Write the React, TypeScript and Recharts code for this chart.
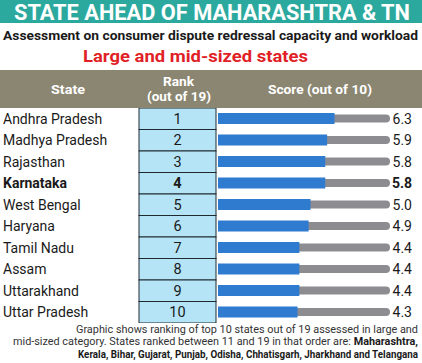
import React from "react";
import { BarChart, Bar, XAxis, YAxis } from "recharts";

const STATES = [
  "Andhra Pradesh",
  "Madhya Pradesh",
  "Rajasthan",
  "Karnataka",
  "West Bengal",
  "Haryana",
  "Tamil Nadu",
  "Assam",
  "Uttarakhand",
  "Uttar Pradesh",
];
const RANKS = [1, 2, 3, 4, 5, 6, 7, 8, 9, 10];
const SCORES = [6.3, 5.9, 5.8, 5.8, 5.0, 4.9, 4.4, 4.4, 4.4, 4.3];
const HIGHLIGHT = "Karnataka";
const RANKED_11_TO_19 = [
  "Maharashtra",
  "Kerala",
  "Bihar",
  "Gujarat",
  "Punjab",
  "Odisha",
  "Chhatisgarh",
  "Jharkhand",
  "Telangana",
];

const data = STATES.map((state, i) => ({ state, rank: RANKS[i], score: SCORES[i] }));

const W = 422;
const H = 363;
const CHART_TOP = 108;
const CHART_H = 215;
const ROW_H = CHART_H / STATES.length;
const LEFT_W = 218;
const RIGHT_W = 32;

const TEAL = "#2ca99e";
const BAND = "#8b8671";
const BLUE = "#2f7bcf";
const TRACK = "#8d8d91";
const RANK_FILL = "#b6e4f7";
const RED = "#e11f27";
const FONT = "Roboto, sans-serif";
const INK = "#1a1a1a";

// left axis tick: state name plus the rank box
function StateTick({ x, y, payload }: any) {
  const row = data.find((d) => d.state === payload.value)!;
  const bold = row.state === HIGHLIGHT;
  return (
    <g>
      <text
        x={x - 215}
        y={y}
        dy={5}
        fontFamily={FONT}
        fontSize={14}
        fontWeight={bold ? 700 : 400}
        fill={INK}
      >
        {row.state}
      </text>
      <rect
        x={x - 79}
        y={y - ROW_H / 2}
        width={77}
        height={ROW_H}
        fill={RANK_FILL}
        stroke="#1f2a30"
        strokeWidth={1}
      />
      <text
        x={x - 40.5}
        y={y}
        dy={5}
        textAnchor="middle"
        fontFamily={FONT}
        fontSize={14.5}
        fontWeight={bold ? 700 : 400}
        fill={INK}
      >
        {row.rank}
      </text>
    </g>
  );
}

function ScoreTick({ x, y, payload }: any) {
  const row = data.find((d) => d.state === payload.value)!;
  const bold = row.state === HIGHLIGHT;
  return (
    <text
      x={x + 22}
      y={y}
      dy={5}
      textAnchor="end"
      fontFamily={FONT}
      fontSize={14}
      fontWeight={bold ? 700 : 400}
      fill={INK}
    >
      {row.score.toFixed(1)}
    </text>
  );
}

function Track(props: any) {
  const { x, y, width, height } = props;
  return (
    <rect x={x} y={y + height / 2 - 4} width={width} height={8} rx={4} fill={TRACK} />
  );
}

// text squeezed to a given width, like the condensed face of the original
function Fit({ x, y, w, size, children, ...rest }: any) {
  return (
    <text
      x={x}
      y={y}
      textLength={w}
      lengthAdjust="spacingAndGlyphs"
      fontFamily={FONT}
      fontSize={size}
      {...rest}
    >
      {children}
    </text>
  );
}

export default function App() {
  const last = RANKED_11_TO_19[RANKED_11_TO_19.length - 1];
  return (
    <div
      style={{
        position: "absolute",
        left: 0,
        top: 0,
        width: W,
        height: H,
        background: "#fff",
        overflow: "hidden",
      }}
    >
      <svg
        width={W}
        height={H}
        style={{ position: "absolute", left: 0, top: 0 }}
      >
        <rect x={0} y={0} width={W} height={23} fill={TEAL} />
        <Fit x={14} y={20} w={396} size={22} fontWeight={700} fill="#fff">
          STATE AHEAD OF MAHARASHTRA &amp; TN
        </Fit>
        <Fit x={3} y={40} w={415} size={13.5} fontWeight={700} fill={INK}>
          Assessment on consumer dispute redressal capacity and workload
        </Fit>
        <Fit x={83} y={62} w={225} size={16.5} fontWeight={700} fill={RED}>
          Large and mid-sized states
        </Fit>
        <rect x={0} y={70} width={W} height={38} fill={BAND} />
        <Fit x={51} y={94} w={34} size={12.5} fontWeight={700} fill="#fff">
          State
        </Fit>
        <Fit x={163} y={86} w={31} size={12.5} fontWeight={700} fill="#fff">
          Rank
        </Fit>
        <Fit x={147} y={101} w={64} size={12.5} fontWeight={700} fill="#fff">
          (out of 19)
        </Fit>
        <Fit x={268} y={94} w={104} size={12.5} fontWeight={700} fill="#fff">
          Score (out of 10)
        </Fit>
        <Fit x={76} y={332.5} w={342} size={10} fill="#333">
          Graphic shows ranking of top 10 states out of 19 assessed in large and
        </Fit>
        <Fit x={13} y={345} w={405} size={10} fill="#333">
          mid-sized category. States ranked between 11 and 19 in that order are:{" "}
          <tspan fontWeight={700} fill={INK}>
            {RANKED_11_TO_19[0]},
          </tspan>
        </Fit>
        <Fit x={78} y={358} w={340} size={10} fontWeight={700} fill={INK}>
          {RANKED_11_TO_19.slice(1, -1).join(", ")} and {last}
        </Fit>
      </svg>
      <div style={{ position: "absolute", left: 0, top: CHART_TOP }}>
        <BarChart
          width={W}
          height={CHART_H}
          data={data}
          layout="vertical"
          margin={{ top: 0, right: 0, bottom: 0, left: 0 }}
          barCategoryGap={0}
        >
          <XAxis type="number" domain={[0, 9.3]} hide />
          <YAxis
            yAxisId="left"
            type="category"
            dataKey="state"
            width={LEFT_W}
            axisLine={false}
            tickLine={false}
            tickSize={0}
            tickMargin={0}
            tick={<StateTick />}
            interval={0}
          />
          <YAxis
            yAxisId="right"
            orientation="right"
            type="category"
            dataKey="state"
            width={RIGHT_W}
            axisLine={false}
            tickLine={false}
            tickSize={0}
            tickMargin={0}
            tick={<ScoreTick />}
            interval={0}
          />
          <Bar
            yAxisId="left"
            dataKey="score"
            fill={BLUE}
            barSize={11}
            background={(p: any) => <Track key={`t-${p.index}`} {...p} />}
            isAnimationActive={false}
          />
        </BarChart>
      </div>
    </div>
  );
}
